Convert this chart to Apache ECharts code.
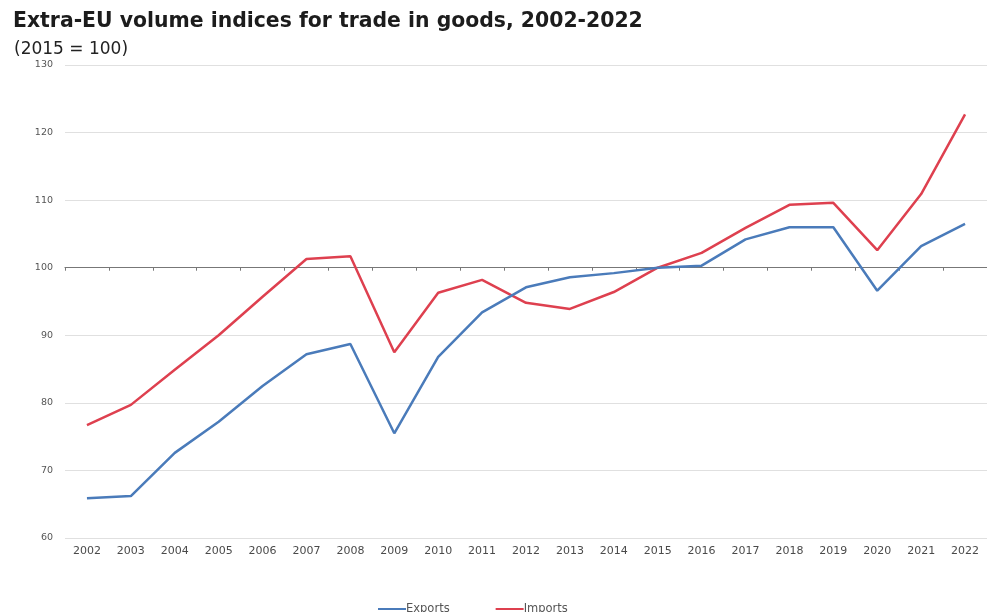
<!DOCTYPE html>
<html>
<head>
<meta charset="utf-8">
<script src="https://cdn.jsdelivr.net/npm/echarts@6/dist/echarts.min.js"></script>
<style>
  html, body { margin: 0; padding: 0; background: #fff; }
  #chart { width: 987px; height: 612px; }
</style>
</head>
<body>
<div id="chart"></div>
<script>
// Extra-EU trade in goods, volume indices (2015 = 100)
const years = ['2002','2003','2004','2005','2006','2007','2008','2009','2010','2011','2012',
               '2013','2014','2015','2016','2017','2018','2019','2020','2021','2022'];
const exportsIdx = [65.9, 66.2, 72.6, 77.2, 82.5, 87.2, 88.7, 75.5, 86.8, 93.4, 97.1,
                    98.6, 99.2, 100.0, 100.3, 104.2, 106.0, 106.0, 96.6, 103.2, 106.5];
const importsIdx = [76.7, 79.7, 84.9, 90.0, 95.7, 101.3, 101.7, 87.5, 96.3, 98.2, 94.8,
                    93.9, 96.4, 100.0, 102.2, 105.9, 109.3, 109.6, 102.6, 110.9, 122.7];
const yTicks = { min: 60, max: 130, step: 10 };
const baseValue = 100;

const FONT = '"Liberation Sans", Arial, sans-serif';
const WIDE = '"DejaVu Sans", Verdana, sans-serif';
const gridTop = 65, gridBottom = 74;
const plotHeight = 612 - gridTop - gridBottom;
// shift the reference axis up so it crosses the value axis at the base index
const baseOffset = -plotHeight * (baseValue - yTicks.min) / (yTicks.max - yTicks.min);

const chart = echarts.init(document.getElementById('chart'), null, { renderer: 'canvas' });
chart.setOption({
  animation: false,
  backgroundColor: '#ffffff',
  textStyle: { fontFamily: FONT },
  title: [
    {
      text: 'Extra-EU volume indices for trade in goods, 2002-2022',
      left: 8, top: 7,
      textStyle: { fontFamily: WIDE, fontSize: 20.4, fontWeight: 'bold', color: '#1c1c1c' }
    },
    {
      text: '(2015 = 100)',
      left: 9, top: 36,
      textStyle: { fontFamily: WIDE, fontSize: 17, fontWeight: 'normal', color: '#222' }
    }
  ],
  legend: {
    left: 373, top: 598,
    itemGap: 46,
    itemWidth: 28, itemHeight: 2,
    icon: 'rect',
    textStyle: { fontFamily: WIDE, fontSize: 11.5, color: '#555', padding: [0, 0, 0, -5] },
    data: ['Exports', 'Imports']
  },
  grid: { left: 65, right: 0, top: gridTop, bottom: gridBottom },
  xAxis: [
    {
      type: 'category',
      data: years,
      boundaryGap: true,
      axisLine: { show: false },
      axisTick: { show: false },
      axisLabel: { fontFamily: WIDE, fontSize: 11, color: '#4a4a4a', margin: 8 }
    },
    {
      type: 'category',
      data: years,
      position: 'bottom',
      offset: baseOffset,
      boundaryGap: true,
      axisLine: { show: true, lineStyle: { color: '#777', width: 1.2 } },
      axisTick: { show: true, length: 3, lineStyle: { color: '#777' } },
      axisLabel: { show: false }
    }
  ],
  yAxis: {
    type: 'value',
    min: yTicks.min, max: yTicks.max, interval: yTicks.step,
    axisLine: { show: false },
    axisTick: { show: false },
    axisLabel: { fontFamily: WIDE, fontSize: 9.5, color: '#555', margin: 12 },
    splitLine: { lineStyle: { color: '#e0e0e0', width: 1 } }
  },
  series: [
    {
      name: 'Exports', type: 'line', data: exportsIdx,
      symbol: 'none', z: 3,
      lineStyle: { color: '#4a7bba', width: 2.5 },
      itemStyle: { color: '#4a7bba' }
    },
    {
      name: 'Imports', type: 'line', data: importsIdx,
      symbol: 'none', z: 2,
      lineStyle: { color: '#de404f', width: 2.5 },
      itemStyle: { color: '#de404f' }
    }
  ]
});
</script>
</body>
</html>
